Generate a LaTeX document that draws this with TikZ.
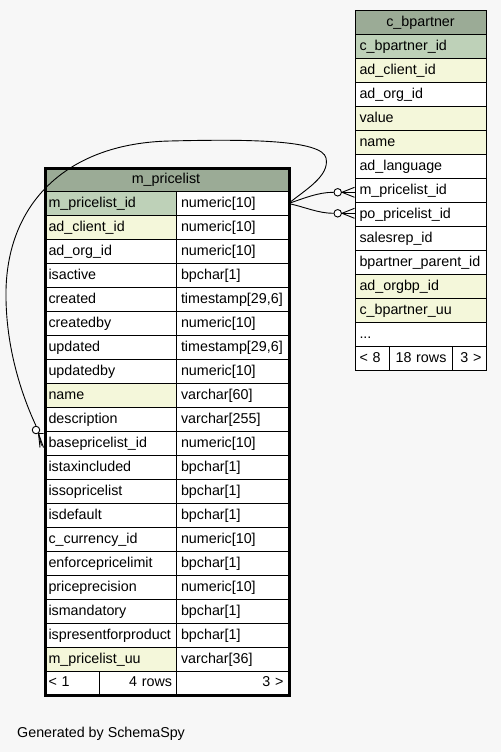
\documentclass[tikz,border=0pt]{standalone}
\usepackage{fontspec}
\setmainfont{Liberation Sans}
\definecolor{bgc}{HTML}{F7F7F7}
\definecolor{headc}{HTML}{9BAB96}
\definecolor{pkc}{HTML}{BED1B8}
\definecolor{idxc}{HTML}{F4F7DA}
\newcommand\cellfont{\fontsize{14.3}{16}\selectfont}
\tikzset{
  cell/.style={draw=black, line width=1pt, anchor=north west, inner ysep=0pt, inner xsep=4.5pt,
    minimum height=24pt, align=left, font=\cellfont, text height=10.5pt, text depth=3pt},
  rel/.style={draw=black, line width=0.9pt},
  odot/.style={circle, draw=black, fill=white, line width=0.9pt, minimum size=7.5pt, inner sep=0pt},
}
% m_pricelist row: index, name, type, fill
\newcommand\plrow[4]{%
  \node[cell, fill=#4, text width=124pt] (pln#1) at (43.5,{191+24*(#1-1)}) {#2};
  \node[cell, fill=white, text width=102.5pt] (plt#1) at (176,{191+24*(#1-1)}) {#3};}
% c_bpartner row: index, name, fill
\newcommand\cbrow[3]{%
  \node[cell, fill=#3, text width=122pt] (cbn#1) at (354.5,{34+24*(#1-1)}) {#2};}
\begin{document}
\begin{tikzpicture}[x=1pt,y=-1pt]
\fill[bgc] (0,0) rectangle (501,752);
\useasboundingbox (0,0) rectangle (501,752);

% ---- m_pricelist ----
\node[cell, fill=headc, text width=235pt, align=center, minimum height=24.5pt] (plhead) at (43.5,166.5) {m\_pricelist};
\plrow{1}{m\_pricelist\_id}{numeric[10]}{pkc}
\plrow{2}{ad\_client\_id}{numeric[10]}{idxc}
\plrow{3}{ad\_org\_id}{numeric[10]}{white}
\plrow{4}{isactive}{bpchar[1]}{white}
\plrow{5}{created}{timestamp[29,6]}{white}
\plrow{6}{createdby}{numeric[10]}{white}
\plrow{7}{updated}{timestamp[29,6]}{white}
\plrow{8}{updatedby}{numeric[10]}{white}
\plrow{9}{name}{varchar[60]}{idxc}
\plrow{10}{description}{varchar[255]}{white}
\plrow{11}{basepricelist\_id}{numeric[10]}{white}
\plrow{12}{istaxincluded}{bpchar[1]}{white}
\plrow{13}{issopricelist}{bpchar[1]}{white}
\plrow{14}{isdefault}{bpchar[1]}{white}
\plrow{15}{c\_currency\_id}{numeric[10]}{white}
\plrow{16}{enforcepricelimit}{bpchar[1]}{white}
\plrow{17}{priceprecision}{numeric[10]}{white}
\plrow{18}{ismandatory}{bpchar[1]}{white}
\plrow{19}{ispresentforproduct}{bpchar[1]}{white}
\plrow{20}{m\_pricelist\_uu}{varchar[36]}{idxc}
\node[cell, fill=white, text width=46.5pt, minimum height=23pt] (plf1) at (43.5,671) {< 1};
\node[cell, fill=white, text width=68pt, align=right, minimum height=23pt] (plf2) at (99,671) {4 rows};
\node[cell, fill=white, text width=102.5pt, align=right, minimum height=23pt] (plf3) at (176,671) {3 >};
\node[draw=black, line width=3pt, anchor=north west, inner sep=0pt, minimum width=244pt, minimum height=527.5pt] (plframe) at (43.5,166.5) {};

% ---- c_bpartner ----
\node[cell, fill=headc, text width=122pt, align=center, minimum height=23.5pt] (cbhead) at (354.5,10.5) {c\_bpartner};
\cbrow{1}{c\_bpartner\_id}{pkc}
\cbrow{2}{ad\_client\_id}{idxc}
\cbrow{3}{ad\_org\_id}{white}
\cbrow{4}{value}{idxc}
\cbrow{5}{name}{idxc}
\cbrow{6}{ad\_language}{white}
\cbrow{7}{m\_pricelist\_id}{white}
\cbrow{8}{po\_pricelist\_id}{white}
\cbrow{9}{salesrep\_id}{white}
\cbrow{10}{bpartner\_parent\_id}{white}
\cbrow{11}{ad\_orgbp\_id}{idxc}
\cbrow{12}{c\_bpartner\_uu}{idxc}
\cbrow{13}{...}{white}
\node[cell, fill=white, text width=25.5pt, minimum height=24pt] (cbf1) at (354.5,346) {< 8};
\node[cell, fill=white, text width=54pt, align=center, minimum height=24pt] (cbf2) at (389,346) {18 rows};
\node[cell, fill=white, text width=24.5pt, align=right, minimum height=24pt] (cbf3) at (452,346) {3 >};

% ---- relationships ----
\node[odot] (c1) at (337.7,192.3) {};
\node[odot] (c2) at (337.7,213.3) {};
\node[odot] (c3) at (36,430) {};
\coordinate (k1) at (342,192.3);
\coordinate (k2) at (342,213.3);
\coordinate (k3) at (38.5,433.5);
\draw[rel] (plt1.east) .. controls (305,198) and (318,192.3) .. (c1.west);
\draw[rel] (plt1.east) .. controls (305,207) and (318,213.3) .. (c2.west);
\draw[rel] (c1.east) -- (k1);
\draw[rel] (k1) -- ([yshift=5pt]cbn7.west|-k1);
\draw[rel] (k1) -- (cbn7.west|-k1);
\draw[rel] (k1) -- ([yshift=-5pt]cbn7.west|-k1);
\draw[rel] (c2.east) -- (k2);
\draw[rel] (k2) -- ([yshift=5pt]cbn8.west|-k2);
\draw[rel] (k2) -- (cbn8.west|-k2);
\draw[rel] (k2) -- ([yshift=-5pt]cbn8.west|-k2);
\draw[rel] (plt1.east) .. controls (305,190) and (330,176) .. (326,158)
  .. controls (322,140) and (250,139) .. (170,141)
  .. controls (70,143) and (8,200) .. (6,290)
  .. controls (5,350) and (24,400) .. (c3.north);
\draw[rel] (c3.south east) -- (k3);
\draw[rel] (k3) -- ([yshift=-4pt]pln11.west);
\draw[rel] (k3) -- ([xshift=-2pt,yshift=-2pt]pln11.west);
\draw[rel] (k3) -- ([xshift=-3.5pt,yshift=-4pt]pln11.west);
\draw[rel] (k3) -- (pln11.north west|-k3) -- cycle;

\node[anchor=base west, inner sep=0pt, font=\cellfont] (gen) at (17,737) {Generated by SchemaSpy};
\end{tikzpicture}
\end{document}
